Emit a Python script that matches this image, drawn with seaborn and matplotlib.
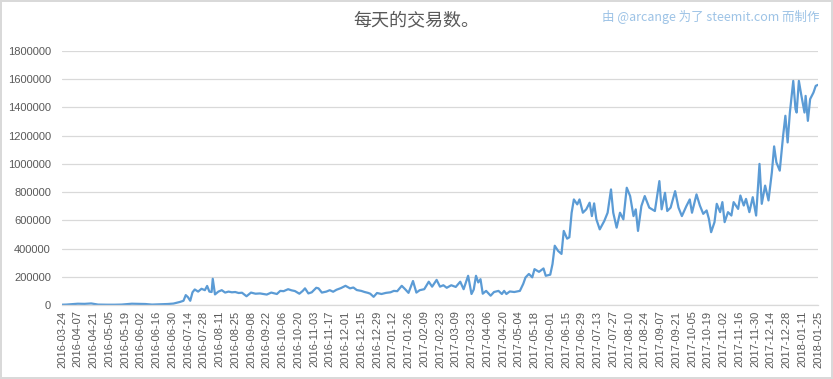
import numpy as np
import pandas as pd
import matplotlib
matplotlib.use("Agg")
import matplotlib.pyplot as plt
import seaborn as sns

# day offset from 2016-03-24 and daily transaction count
day = [0, 4, 9, 14, 20, 26, 32, 40, 47, 53, 58, 62, 68, 74, 80, 87, 94, 99,
       102, 105, 108, 110, 112, 114, 116, 118, 121, 124, 127, 129, 131, 133,
       134, 136, 139, 142, 145, 148, 151, 154, 157, 160, 164, 168, 172, 176,
       179, 182, 186, 191, 194, 197, 201, 204, 207, 211, 214, 216, 219, 222,
       226, 228, 231, 235, 238, 241, 244, 248, 252, 256, 259, 262, 266, 269,
       272, 274, 277, 280, 284, 288, 292, 295, 298, 302, 305, 308, 312, 315,
       318, 322, 326, 329, 333, 336, 339, 342, 346, 350, 354, 357, 361, 364,
       366, 368, 370, 372, 374, 377, 381, 384, 388, 391, 393, 395, 398, 402,
       407, 410, 412, 415, 418, 420, 424, 428, 430, 434, 436, 438, 441, 444,
       446, 449, 451, 453, 455, 458, 460, 463, 466, 469, 471, 473, 475, 478,
       482, 485, 488, 490, 493, 496, 499, 502, 505, 508, 510, 512, 515, 518,
       522, 527, 531, 533, 536, 538, 541, 545, 548, 551, 555, 558, 560, 564,
       567, 570, 573, 575, 577, 580, 582, 585, 587, 589, 592, 595, 597, 601,
       603, 606, 608, 611, 614, 617, 620, 622, 625, 628, 631, 633, 635, 638,
       641, 643, 645, 647, 650, 652, 653, 655, 657, 660, 661, 663, 665, 668,
       670, 672]
tx = [2000, 3000, 6000, 9000, 8000, 11000, 3000, 2000, 2000, 3000, 6000, 9000,
      8000, 7000, 3000, 5000, 7000, 10000, 16000, 22000, 30000, 70000, 55000,
      30000, 90000, 110000, 95000, 115000, 105000, 135000, 95000, 92000,
      186000, 75000, 95000, 105000, 88000, 95000, 90000, 92000, 85000, 87000,
      62000, 88000, 80000, 82000, 78000, 74000, 88000, 78000, 100000, 98000,
      112000, 104000, 99000, 80000, 100000, 118000, 82000, 90000, 122000,
      118000, 88000, 95000, 105000, 94000, 108000, 120000, 136000, 118000,
      124000, 106000, 100000, 92000, 86000, 80000, 58000, 85000, 78000, 86000,
      90000, 100000, 98000, 136000, 112000, 86000, 170000, 88000, 105000,
      112000, 165000, 130000, 178000, 130000, 140000, 122000, 140000, 128000,
      165000, 112000, 207000, 78000, 110000, 207000, 160000, 183000, 80000,
      100000, 66000, 92000, 100000, 78000, 100000, 78000, 96000, 92000,
      100000, 150000, 195000, 220000, 196000, 254000, 235000, 259000, 207000,
      215000, 290000, 420000, 383000, 362000, 525000, 470000, 480000, 654000,
      748000, 713000, 748000, 654000, 678000, 725000, 630000, 720000, 607000,
      536000, 595000, 654000, 819000, 654000, 548000, 654000, 607000, 831000,
      772000, 630000, 678000, 525000, 701000, 772000, 690000, 666000, 878000,
      678000, 795000, 666000, 690000, 807000, 690000, 630000, 701000, 748000,
      654000, 784000, 705000, 646000, 670000, 611000, 516000, 587000, 717000,
      658000, 729000, 587000, 658000, 634000, 729000, 681000, 776000, 705000,
      752000, 658000, 764000, 634000, 1000000, 717000, 846000, 741000, 941000,
      1124000, 1011000, 952000, 1200000, 1341000, 1152000, 1364000, 1588000,
      1388000, 1364000, 1588000, 1494000, 1364000, 1482000, 1305000, 1459000,
      1506000, 1553000, 1560000]

start = pd.Timestamp("2016-03-24")
end = pd.Timestamp("2018-01-25")
y_ticks = list(range(0, 1800001, 200000))

df = pd.DataFrame({"date": start + pd.to_timedelta(day, unit="D"), "tx": tx})

sns.set_style("white")
plt.rcParams['font.family'] = ['Liberation Sans', 'Noto Sans CJK SC']

fig = plt.figure(figsize=(8.33, 3.79), dpi=100)
fig.patch.set_edgecolor("#d9d9d9")
fig.patch.set_linewidth(1.5)
ax = fig.add_axes([62 / 833, 1 - 305 / 379, (818 - 62) / 833, (305 - 51) / 379])

sns.lineplot(data=df, x="date", y="tx", color="#5b9bd5", linewidth=1.6, ax=ax)

ax.set_xlim(start, end)
ax.set_ylim(0, 1800000)
ax.set_yticks(y_ticks)
ax.set_yticklabels([str(v) for v in y_ticks])
xt = pd.date_range(start, end, freq="14D")
ax.set_xticks(xt)
ax.set_xticklabels([d.strftime("%Y-%m-%d") for d in xt], rotation=90)
ax.tick_params(axis="y", length=0, pad=8, labelsize=8, labelcolor="#595959")
ax.tick_params(axis="x", length=0, pad=4, labelsize=8, labelcolor="#595959")
ax.set_xlabel("")
ax.set_ylabel("")

ax.grid(axis="y", color="#d9d9d9", linewidth=0.9)
ax.set_axisbelow(True)
for s in ["left", "right", "top"]:
    ax.spines[s].set_visible(False)
ax.spines["bottom"].set_color("#d9d9d9")
ax.spines["bottom"].set_linewidth(0.9)

fig.text(0.5, 1 - 20 / 379, "每天的交易数。", ha="center", va="center",
         fontsize=13, color="#595959", family=["Noto Sans CJK SC", "DejaVu Sans"])
fig.text(819 / 833, 1 - 17 / 379, "由 @arcange 为了 steemit.com 而制作", ha="right",
         va="center", fontsize=9, color="#9dc3e6", family=["Noto Sans CJK SC", "DejaVu Sans"])

fig.savefig("out.png", dpi=100)
